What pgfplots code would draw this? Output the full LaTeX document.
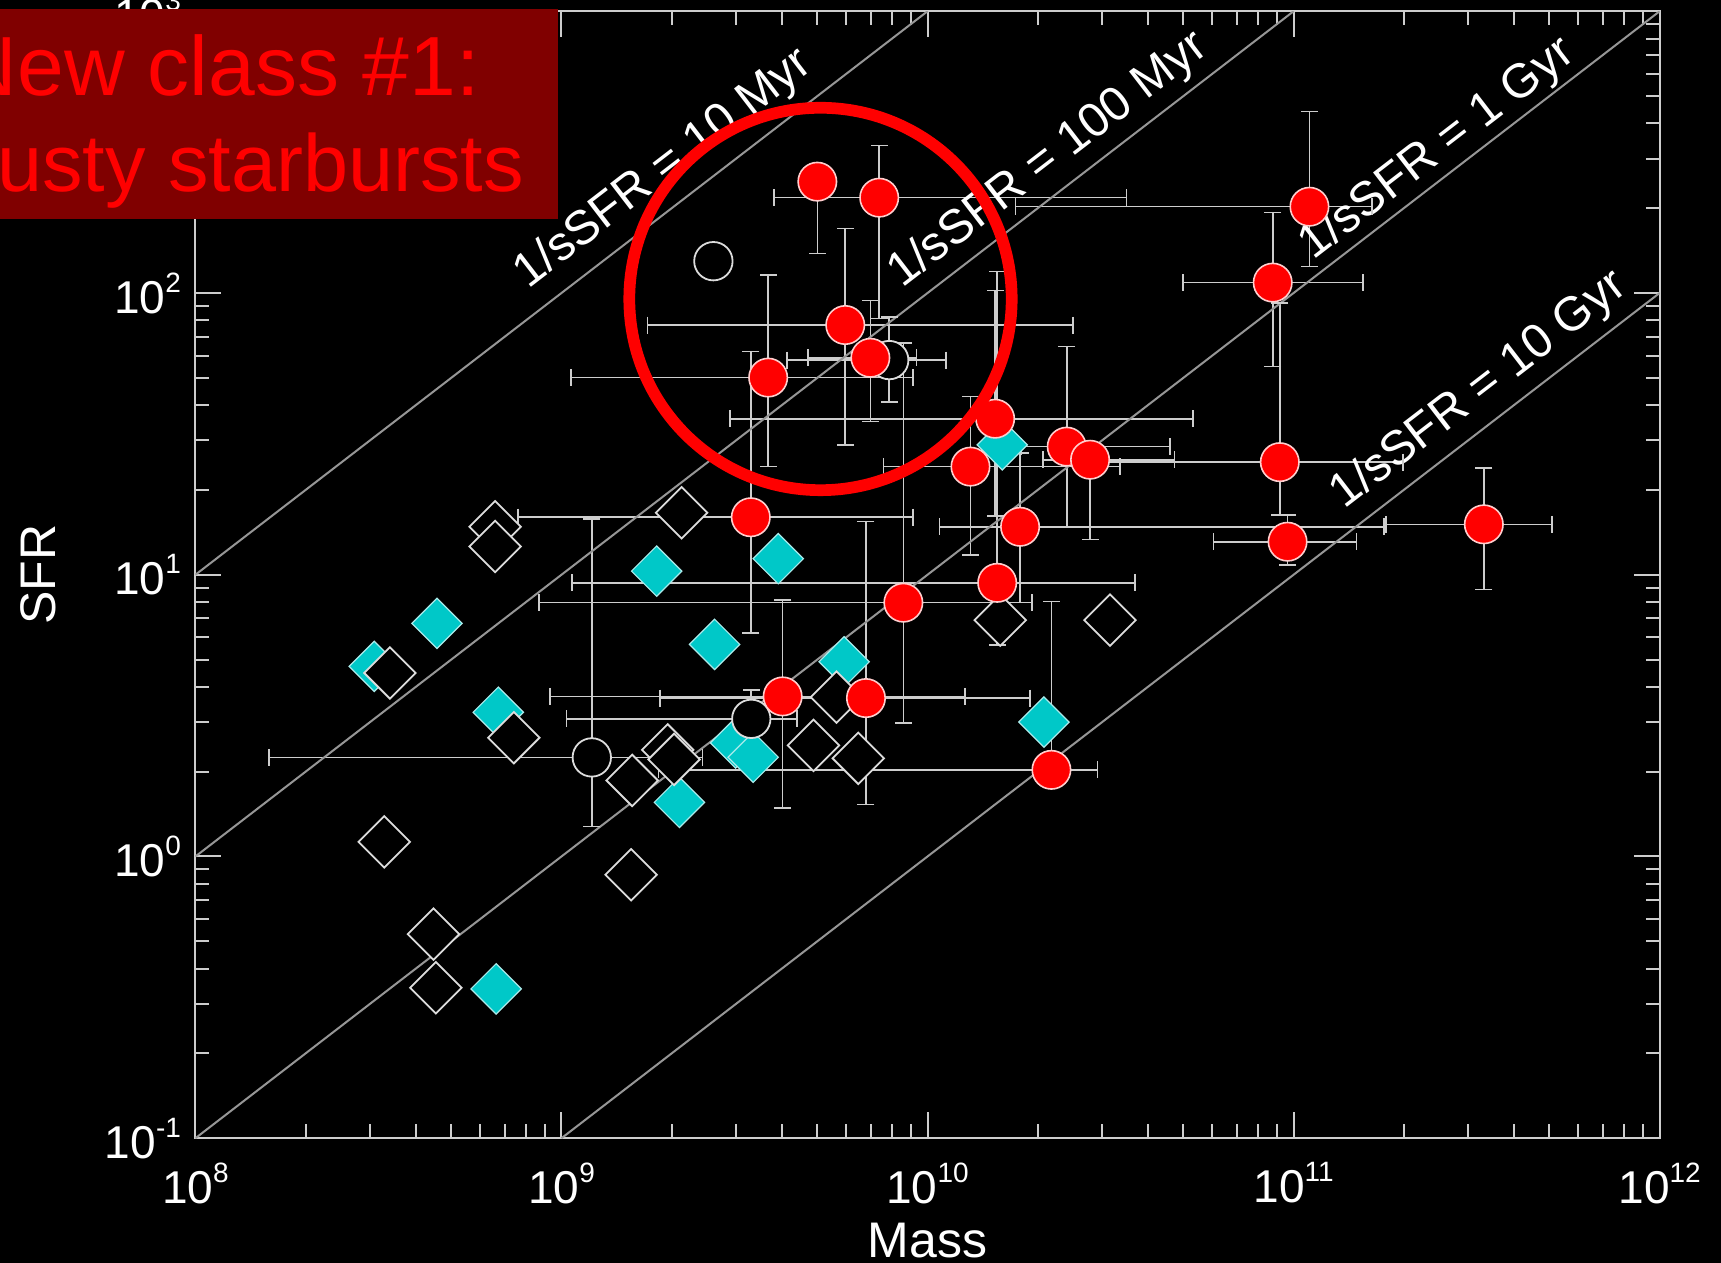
\documentclass[border=0pt]{standalone}
\usepackage{fontspec}
\setmainfont{Liberation Sans}
\usepackage{pgfplots}
\pgfplotsset{compat=1.18}
\definecolor{ebar}{RGB}{205,205,205}
\definecolor{axgray}{RGB}{205,205,205}
\definecolor{lgray}{RGB}{150,150,150}
\definecolor{cyanm}{RGB}{0,200,200}
\definecolor{cyane}{RGB}{170,235,235}
\definecolor{redm}{RGB}{255,0,0}
\definecolor{rede}{RGB}{255,205,205}
\definecolor{owhite}{RGB}{220,220,220}
\definecolor{boxred}{RGB}{128,0,0}
\newcommand\sups[1]{\raisebox{10.5pt}{\fontsize{14}{14}\selectfont #1}}
\begin{document}
\begin{tikzpicture}
\useasboundingbox (0pt,0pt) rectangle (860.5pt,631.5pt);
\clip (0pt,0pt) rectangle (860.5pt,631.5pt);
\fill[black] (0pt,0pt) rectangle (860.5pt,631.5pt);
\begin{axis}[
  at={(97.7pt,62.4pt)}, anchor=south west,
  width=732.1pt, height=563.45pt, scale only axis,
  xmode=log, ymode=log,
  xmin=1e8, xmax=1e12, ymin=0.1, ymax=1000,
  xtick={1e8,1e9,1e10,1e11,1e12},
  xticklabels={10\sups{8},10\sups{9},10\sups{10},10\sups{11},10\sups{12}},
  ytick={0.1,1,10,100,1000},
  yticklabels={10\sups{-1},10\sups{0},10\sups{1},10\sups{2},10\sups{3}},
  tick pos=both, tick align=inside,
  major tick length=13pt, minor tick length=7pt,
  every tick/.style={axgray, line width=1pt},
  axis line style={axgray, line width=1pt},
  ticklabel style={white, font=\fontsize{23}{27}\selectfont, inner sep=0pt},
  xticklabel style={anchor=north, yshift=-12pt},
  yticklabel style={anchor=east, xshift=-7pt},
  xlabel={Mass}, ylabel={SFR},
  label style={white, font=\fontsize{25}{30}\selectfont},
  xlabel style={at={(axis description cs:0.5,-0.0912)}, anchor=center},
  ylabel style={at={(axis description cs:-0.1072,0.5)}, anchor=center},
]
% horizontal error bars
\addplot[ebar, line width=0.8pt, mark=|, mark size=4.25pt, unbounded coords=jump, mark options={solid, line width=0.8pt}] coordinates {
(3.80e9,218) (3.50e10,218) (nan,nan)
(1.72e9,77.0) (2.50e10,77.0) (nan,nan)
(4.71e9,58.9) (9.33e9,58.9) (nan,nan)
(4.13e9,57.8) (1.125e10,57.8) (nan,nan)
(1.06e9,50.1) (9.14e9,50.1) (nan,nan)
(2.886e9,35.8) (5.32e10,35.8) (nan,nan)
(7.59e9,24.2) (3.35e10,24.2) (nan,nan)
(1.80e10,28.5) (4.60e10,28.5) (nan,nan)
(2.065e10,25.6) (4.73e10,25.6) (nan,nan)
(7.61e8,16.0) (9.14e9,16.0) (nan,nan)
(1.079e10,14.8) (1.768e11,14.8) (nan,nan)
(1.068e9,9.36) (3.69e10,9.36) (nan,nan)
(8.68e8,7.96) (1.93e10,7.96) (nan,nan)
(9.30e8,3.70) (1.264e10,3.70) (nan,nan)
(1.855e9,3.65) (1.907e10,3.65) (nan,nan)
(1.842e9,2.03) (2.915e10,2.03) (nan,nan)
(1.738e10,202.5) (1.635e11,202.5) (nan,nan)
(4.996e10,108.9) (1.55e11,108.9) (nan,nan)
(2.915e10,25.1) (1.988e11,25.1) (nan,nan)
(6.04e10,13.1) (1.487e11,13.1) (nan,nan)
(1.792e11,15.1) (5.08e11,15.1) (nan,nan)
(1.588e8,2.247) (2.428e9,2.247) (nan,nan)
(1.032e9,3.08) (4.397e9,3.08)
};
% vertical error bars
\addplot[ebar, line width=0.8pt, mark=-, mark size=4.25pt, unbounded coords=jump, mark options={solid, line width=0.8pt}] coordinates {
(5.0e9,248.5) (5.0e9,138.3) (nan,nan)
(7.38e9,333.6) (7.38e9,81.3) (nan,nan)
(5.96e9,169.7) (5.96e9,28.9) (nan,nan)
(6.98e9,94.2) (6.98e9,35.0) (nan,nan)
(7.86e9,82.1) (7.86e9,41.1) (nan,nan)
(3.67e9,115.9) (3.67e9,24.2) (nan,nan)
(1.53e10,102.0) (1.53e10,16.2) (nan,nan)
(1.31e10,42.9) (1.31e10,11.75) (nan,nan)
(2.40e10,64.5) (2.40e10,14.8) (nan,nan)
(2.78e10,25.6) (2.78e10,13.35) (nan,nan)
(3.29e9,62.1) (3.29e9,6.20) (nan,nan)
(1.79e10,27.0) (1.79e10,7.96) (nan,nan)
(1.55e10,119.1) (1.55e10,5.63) (nan,nan)
(8.59e9,66.4) (8.59e9,2.97) (nan,nan)
(4.02e9,8.14) (4.02e9,1.483) (nan,nan)
(6.79e9,15.47) (6.79e9,1.529) (nan,nan)
(2.18e10,8.04) (2.18e10,2.03) (nan,nan)
(1.105e11,440.5) (1.105e11,124.0) (nan,nan)
(8.77e10,192.8) (8.77e10,54.8) (nan,nan)
(9.17e10,92.2) (9.17e10,16.3) (nan,nan)
(9.63e10,16.3) (9.63e10,10.82) (nan,nan)
(3.31e11,23.9) (3.31e11,8.87) (nan,nan)
(1.21e9,15.75) (1.21e9,1.278) (nan,nan)
(3.30e9,3.90) (3.30e9,2.85)
};
% cyan filled diamonds
\addplot[only marks, mark=square*, mark size=8.9pt, mark options={rotate=45, fill=cyanm, draw=cyane, line width=0.6pt}] coordinates {
(1.60e10,28.9) (1.82e9,10.3) (3.91e9,11.4) (4.57e8,6.72) (2.62e9,5.66)
(5.92e9,4.91) (3.08e8,4.73) (6.72e8,3.25) (2.08e10,3.00) (2.99e9,2.53)
(3.34e9,2.25) (2.10e9,1.556) (6.63e8,0.3388)
};
% open diamonds
\addplot[only marks, mark=square*, mark size=9.1pt, mark options={rotate=45, fill=black, draw=owhite, line width=0.9pt}] coordinates {
(6.59e8,14.8) (6.59e8,12.6) (2.13e9,16.6) (3.40e8,4.48) (7.41e8,2.64)
(1.58e10,6.90) (3.15e10,6.90) (5.64e9,3.68) (1.95e9,2.39) (2.03e9,2.21)
(1.56e9,1.862) (4.88e9,2.48) (6.47e9,2.23) (3.28e8,1.127) (1.55e9,0.861)
(4.47e8,0.530) (4.54e8,0.342)
};
% open circles
\addplot[only marks, mark=*, mark size=9.6pt, mark options={fill=black, draw=owhite, line width=0.9pt}] coordinates {
(2.60e9,129.7) (7.86e9,57.8) (1.21e9,2.247) (3.30e9,3.08)
};
% red filled circles
\addplot[only marks, mark=*, mark size=9.6pt, mark options={fill=redm, draw=rede, line width=0.8pt}] coordinates {
(5.0e9,248.5) (7.38e9,218) (5.96e9,77.0) (6.98e9,58.9) (3.67e9,50.1)
(1.53e10,35.8) (1.31e10,24.2) (2.40e10,28.5) (2.78e10,25.6) (3.29e9,16.0)
(1.79e10,14.8) (1.55e10,9.36) (8.59e9,7.96) (4.02e9,3.70) (6.79e9,3.65)
(2.18e10,2.03) (1.105e11,202.5) (8.77e10,108.9) (9.17e10,25.1) (9.63e10,13.1)
(3.31e11,15.1)
};
% constant 1/sSFR lines
\addplot[lgray, line width=1pt] coordinates {(1e8,10) (1e10,1000)};
\addplot[lgray, line width=1pt] coordinates {(1e8,1) (1e11,1000)};
\addplot[lgray, line width=1pt] coordinates {(1e8,0.1) (1e12,1000)};
\addplot[lgray, line width=1pt] coordinates {(1e9,0.1) (1e12,100)};
\node[white, rotate=37.59, font=\fontsize{24}{28}\selectfont] at (axis cs:1.905e9,275.4) {1/sSFR = 10 Myr};
\node[white, rotate=37.59, font=\fontsize{24}{28}\selectfont] at (axis cs:2.14e10,295.8) {1/sSFR = 100 Myr};
\node[white, rotate=37.59, font=\fontsize{24}{28}\selectfont] at (axis cs:2.48e11,323.6) {1/sSFR = 1 Gyr};
\node[white, rotate=37.59, font=\fontsize{24}{28}\selectfont] at (axis cs:3.22e11,45.0) {1/sSFR = 10 Gyr};
\end{axis}
% annotations
\draw[redm, line width=5.85pt] (410.25pt,482.0pt) circle[radius=95.6pt];
\fill[boxred] (-60pt,522pt) rectangle (279pt,627pt);
\node[anchor=base east, text=redm, font=\fontsize{42}{48}\selectfont, inner sep=0pt] at (240pt,583.5pt) {New class \#1:};
\node[anchor=base, text=redm, font=\fontsize{40.5}{48}\selectfont, inner sep=0pt] at (115.75pt,535.6pt) {Dusty starbursts};
\end{tikzpicture}
\end{document}
